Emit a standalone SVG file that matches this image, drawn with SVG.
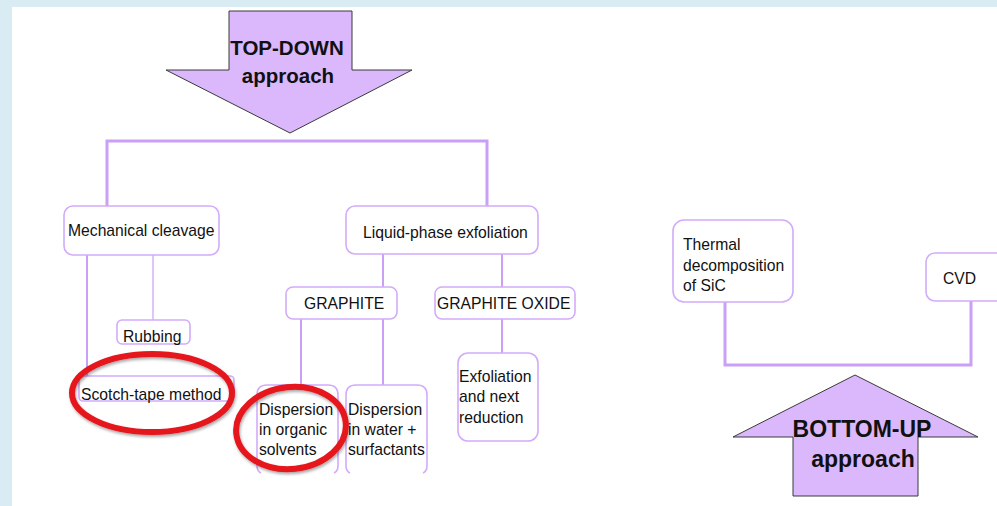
<svg xmlns="http://www.w3.org/2000/svg" width="997" height="506" viewBox="0 0 997 506">
<defs>
<style>
.bg{fill:#d9ecf3}
.arrow{fill:#dbb8fc;stroke:#3a3a3a;stroke-width:1}
.box{fill:#ffffff;stroke:#d2acfa;stroke-width:1.6}
.t{font-family:"Liberation Sans",Arial,sans-serif;font-size:15.7px;fill:#111111}
.big{font-family:"Liberation Sans",Arial,sans-serif;font-weight:bold;fill:#111111;text-anchor:middle}
.thick{fill:none;stroke:#c9a0f5;stroke-width:3}
.mid{fill:none;stroke:#c9a0f5;stroke-width:2}
.thin{fill:none;stroke:#c9a0f5;stroke-width:1.2}
.ring{fill:none;stroke:#e5141b;stroke-width:6}
</style>
<filter id="sh" x="-20%" y="-20%" width="140%" height="140%">
<feDropShadow dx="1" dy="2" stdDeviation="1.5" flood-color="#000" flood-opacity="0.35"/>
</filter>
</defs>
<rect class="bg" x="0" y="0" width="997" height="506"/>
<rect x="12" y="7" width="985" height="499" fill="#ffffff"/>

<g id="connectors">
<path class="thick" d="M107,207 V141 H487 V207"/>
<path class="mid" d="M87,255 V376"/>
<path class="thin" d="M153,255 V320"/>
<path class="mid" d="M383,254 V287"/>
<path class="mid" d="M502,254 V287"/>
<path class="mid" d="M301,319 V385"/>
<path class="mid" d="M383,319 V385"/>
<path class="mid" d="M502,319 V353"/>
<path class="thick" d="M725,302 V365 H971 V301"/>
</g>

<g id="top-down">
<polygon class="arrow" points="229,11 352,11 352,70 412,70 290,133 166,70 229,70"/>
<text class="big" x="287" y="55" font-size="20.5">TOP-DOWN</text>
<text class="big" x="288" y="83" font-size="20.5">approach</text>
</g>

<g id="mechanical-cleavage">
<rect class="box" x="64" y="206" width="155" height="49" rx="9"/>
<text class="t" x="68" y="236">Mechanical cleavage</text>
</g>

<g id="rubbing">
<rect class="box" x="117" y="320" width="73" height="24" rx="5"/>
<text class="t" x="123" y="342">Rubbing</text>
</g>

<g id="scotch-tape">
<rect class="box" x="79" y="376" width="155" height="25" rx="4"/>
<text class="t" x="81" y="400">Scotch-tape method</text>
</g>

<g id="liquid-phase">
<rect class="box" x="346" y="206" width="192" height="48" rx="9"/>
<text class="t" x="363" y="238">Liquid-phase exfoliation</text>
</g>

<g id="graphite">
<rect class="box" x="286" y="287" width="111" height="32" rx="7"/>
<text class="t" x="304" y="309">GRAPHITE</text>
</g>

<g id="graphite-oxide">
<rect class="box" x="435" y="287" width="140" height="32" rx="7"/>
<text class="t" x="437" y="309">GRAPHITE OXIDE</text>
</g>

<g id="dispersion-organic">
<path class="box" d="M257,466 V395 Q257,385 267,385 H328 Q338,385 338,395 V466 Q338,471 334,473 M257,466 Q257,471 261,473"/>
<text class="t" x="259" y="415">Dispersion</text>
<text class="t" x="259" y="435">in organic</text>
<text class="t" x="259" y="455">solvents</text>
</g>

<g id="dispersion-water">
<path class="box" d="M346,466 V395 Q346,385 356,385 H417 Q427,385 427,395 V466 Q427,471 423,473 M346,466 Q346,471 350,473"/>
<text class="t" x="348" y="415">Dispersion</text>
<text class="t" x="348" y="435">in water +</text>
<text class="t" x="348" y="455">surfactants</text>
</g>

<g id="exfoliation-reduction">
<rect class="box" x="458" y="353" width="80" height="88" rx="10"/>
<text class="t" x="459" y="382">Exfoliation</text>
<text class="t" x="459" y="402">and next</text>
<text class="t" x="459" y="423">reduction</text>
</g>

<g id="thermal">
<rect class="box" x="673" y="220" width="120" height="82" rx="11"/>
<text class="t" x="683" y="250">Thermal</text>
<text class="t" x="683" y="271">decomposition</text>
<text class="t" x="683" y="291">of SiC</text>
</g>

<g id="cvd">
<rect class="box" x="926" y="253" width="80" height="48" rx="9"/>
<text class="t" x="943" y="284">CVD</text>
</g>

<g id="bottom-up">
<polygon class="arrow" points="855,375 978,437 918,437 918,496 793,496 793,437 733,437"/>
<text class="big" x="862" y="437" font-size="23">BOTTOM-UP</text>
<text class="big" x="863" y="467" font-size="23">approach</text>
</g>

<g id="highlights" filter="url(#sh)">
<ellipse class="ring" cx="152" cy="393" rx="80" ry="39"/>
<ellipse class="ring" cx="291" cy="428" rx="55" ry="41" transform="rotate(-6 291 428)"/>
</g>
</svg>
